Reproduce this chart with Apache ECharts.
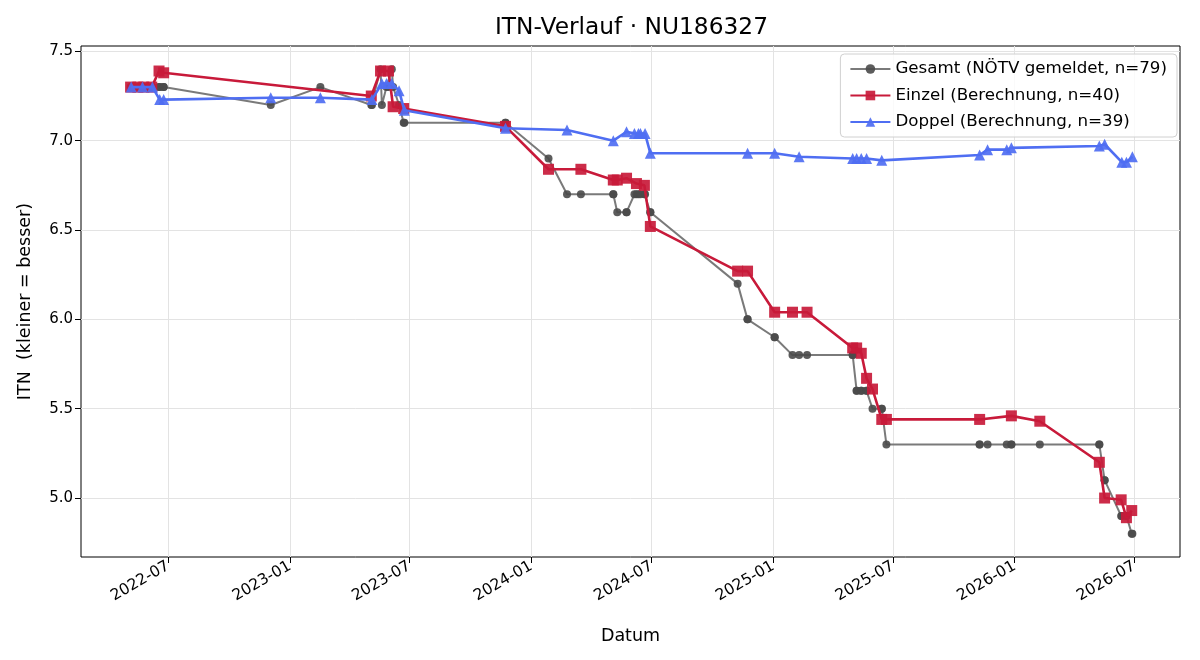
<!DOCTYPE html>
<html><head><meta charset="utf-8">
<script src="https://cdn.jsdelivr.net/npm/echarts@6/dist/echarts.min.js"></script>
<style>html,body{margin:0;padding:0;background:#fff}#c{width:1200px;height:660px}</style>
</head><body><div id="c"></div>
<script>
// ---- data ----
const matchDates = [
 '2022-05-05','2022-05-06','2022-05-16','2022-05-23','2022-05-25','2022-06-06','2022-06-07','2022-06-17','2022-06-18','2022-06-24',
 '2022-06-24','2022-12-03','2023-02-16','2023-05-04','2023-05-05','2023-05-18','2023-05-20','2023-05-27','2023-05-30','2023-06-04',
 '2023-06-06','2023-06-15','2023-06-22','2023-06-23','2023-11-23','2023-11-23','2024-01-27','2024-02-24','2024-03-16','2024-05-04',
 '2024-05-04','2024-05-10','2024-05-24','2024-05-24','2024-06-05','2024-06-08','2024-06-11','2024-06-14','2024-06-20','2024-06-21',
 '2024-06-29','2024-06-29','2024-11-08','2024-11-23','2024-11-23','2025-01-03','2025-01-03','2025-01-30','2025-02-09','2025-02-21',
 '2025-05-01','2025-05-01','2025-05-07','2025-05-07','2025-05-14','2025-05-14','2025-05-22','2025-05-22','2025-05-31','2025-06-14',
 '2025-06-14','2025-06-21','2025-11-09','2025-11-09','2025-11-21','2025-12-20','2025-12-27','2025-12-27','2026-02-08','2026-05-09',
 '2026-05-09','2026-05-17','2026-05-17','2026-06-11','2026-06-12','2026-06-19','2026-06-19','2026-06-27','2026-06-28'
];
const matchType = [
 'E','D','E','D','E','E','D','E','D','E',
 'D','D','D','E','D','E','D','D','E','D',
 'E','D','E','D','E','D','E','D','E','E',
 'D','E','E','D','D','E','D','D','E','D',
 'E','D','E','E','D','E','D','E','D','E',
 'E','D','E','D','E','D','E','D','E','E',
 'D','E','E','D','D','D','E','D','E','E',
 'D','E','D','E','D','E','D','E','D'
];
const gesamtITN = [
 7.3,7.3,7.3,7.3,7.3,7.3,7.3,7.3,7.3,7.3,
 7.3,7.2,7.3,7.2,7.2,7.4,7.2,7.3,7.3,7.4,
 7.3,7.2,7.1,7.1,7.1,7.1,6.9,6.7,6.7,6.7,
 6.7,6.6,6.6,6.6,6.7,6.7,6.7,6.7,6.7,6.7,
 6.6,6.6,6.2,6.0,6.0,5.9,5.9,5.8,5.8,5.8,
 5.8,5.8,5.6,5.6,5.6,5.6,5.6,5.6,5.5,5.5,
 5.5,5.3,5.3,5.3,5.3,5.3,5.3,5.3,5.3,5.3,
 5.3,5.1,5.1,4.9,4.9,4.9,4.9,4.8,4.8
];
const berechnetITN = [
 7.30,7.30,7.30,7.30,7.30,7.30,7.30,7.39,7.23,7.38,
 7.23,7.24,7.24,7.25,7.23,7.39,7.32,7.32,7.39,7.32,
 7.19,7.28,7.18,7.17,7.08,7.07,6.84,7.06,6.84,6.78,
 7.00,6.78,6.79,7.05,7.04,6.76,7.04,7.04,6.75,7.04,
 6.52,6.93,6.27,6.27,6.93,6.04,6.93,6.04,6.91,6.04,
 5.84,6.90,5.84,6.90,5.81,6.90,5.67,6.90,5.61,5.44,
 6.89,5.44,5.44,6.92,6.95,6.95,5.46,6.96,5.43,5.20,
 6.97,5.00,6.98,4.99,6.88,4.89,6.88,4.93,6.91
];
const xTickLabels = ['2022-07','2023-01','2023-07','2024-01','2024-07','2025-01','2025-07','2026-01','2026-07'];
const yTicks = [5.0, 5.5, 6.0, 6.5, 7.0, 7.5];
const xRange = ['2022-02-19', '2026-09-08'];
const yRange = [4.67, 7.53];

// ---- build ----
function ts(s){ const p = s.split('-').map(Number); return new Date(p[0], p[1]-1, p[2] || 1).getTime(); }
const gesamtData = matchDates.map((d,i) => [ts(d), gesamtITN[i]]);
const einzelData = matchDates.map((d,i) => [ts(d), berechnetITN[i], matchType[i]]).filter(r => r[2]==='E').map(r => [r[0], r[1]]);
const doppelData = matchDates.map((d,i) => [ts(d), berechnetITN[i], matchType[i]]).filter(r => r[2]==='D').map(r => [r[0], r[1]]);
const xTickVals = xTickLabels.map(l => ts(l + '-01'));
const names = [
  'Gesamt (NÖTV gemeldet, n=' + gesamtData.length + ')',
  'Einzel (Berechnung, n=' + einzelData.length + ')',
  'Doppel (Berechnung, n=' + doppelData.length + ')'
];
const FONT = 'DejaVu Sans';
const chart = echarts.init(document.getElementById('c'), null, {renderer: 'canvas'});
chart.setOption({
  animation: false,
  backgroundColor: '#fff',
  textStyle: {fontFamily: FONT, color: '#000'},
  title: {
    text: 'ITN-Verlauf · NU186327', left: 495, top: 16, padding: 0,
    textStyle: {fontFamily: FONT, fontSize: 23.3, fontWeight: 'normal', color: '#000'}
  },
  grid: {left: 81, right: 20, top: 46, bottom: 103, show: true, borderColor: '#000', borderWidth: 1, backgroundColor: 'transparent'},
  legend: {
    data: names, orient: 'vertical', right: 23, top: 54,
    padding: [6, 10, 6, 9], itemWidth: 40, itemHeight: 12, itemGap: 8.5,
    backgroundColor: 'rgba(255,255,255,0.8)', borderColor: '#d0d0d0', borderWidth: 1, borderRadius: 4,
    textStyle: {fontFamily: FONT, fontSize: 16.7, lineHeight: 18, color: '#000'}
  },
  xAxis: {
    type: 'value', min: ts(xRange[0]), max: ts(xRange[1]), scale: true,
    name: 'Datum', nameLocation: 'middle', nameGap: 70,
    nameTextStyle: {fontFamily: FONT, fontSize: 17.5, color: '#000'},
    axisLine: {show: false},
    axisTick: {show: true, customValues: xTickVals, length: 6, lineStyle: {color: '#000', width: 1}},
    axisLabel: {
      customValues: xTickVals, rotate: 30, margin: 8, fontFamily: FONT, fontSize: 15.5, color: '#000',
      formatter: function (v) { const d = new Date(v); return d.getFullYear() + '-' + String(d.getMonth()+1).padStart(2,'0'); }
    },
    splitLine: {show: false}
  },
  yAxis: {
    type: 'value', min: yRange[0], max: yRange[1],
    name: 'ITN  (kleiner = besser)', nameLocation: 'middle', nameGap: 47,
    nameTextStyle: {fontFamily: FONT, fontSize: 17.5, color: '#000'},
    axisLine: {show: false},
    axisTick: {show: true, customValues: yTicks, length: 6, lineStyle: {color: '#000', width: 1}},
    axisLabel: {customValues: yTicks, margin: 8, fontFamily: FONT, fontSize: 15, color: '#000', formatter: v => Number(v).toFixed(1)},
    splitLine: {show: false}
  },
  series: [
    {
      type: 'line', name: '_grid', data: [], silent: true, z: 1,
      markLine: {
        silent: true, z: 1, symbol: ['none', 'none'], label: {show: false}, animation: false,
        lineStyle: {color: '#e3e3e3', width: 1, type: 'solid'},
        emphasis: {disabled: true},
        data: xTickVals.map(v => ({xAxis: v})).concat(yTicks.map(v => ({yAxis: v})))
      }
    },
    {
      type: 'line', name: names[0], data: gesamtData, z: 3,
      symbol: 'circle', symbolSize: 8, showAllSymbol: true,
      lineStyle: {color: '#7a7a7a', width: 2},
      itemStyle: {color: '#4a4a4a', opacity: 0.9},
      color: '#6a6a6a'
    },
    {
      type: 'line', name: names[1], data: einzelData, z: 4,
      symbol: 'rect', symbolSize: 11, showAllSymbol: true,
      lineStyle: {color: '#c81a3a', width: 2.6},
      itemStyle: {color: '#c81a3a', opacity: 0.92},
      color: '#c81a3a'
    },
    {
      type: 'line', name: names[2], data: doppelData, z: 5,
      symbol: 'triangle', symbolSize: 11, showAllSymbol: true,
      lineStyle: {color: '#4f6ef2', width: 2.6},
      itemStyle: {color: '#4f6ef2', opacity: 0.92},
      color: '#4f6ef2'
    }
  ]
});
</script>
</body></html>
